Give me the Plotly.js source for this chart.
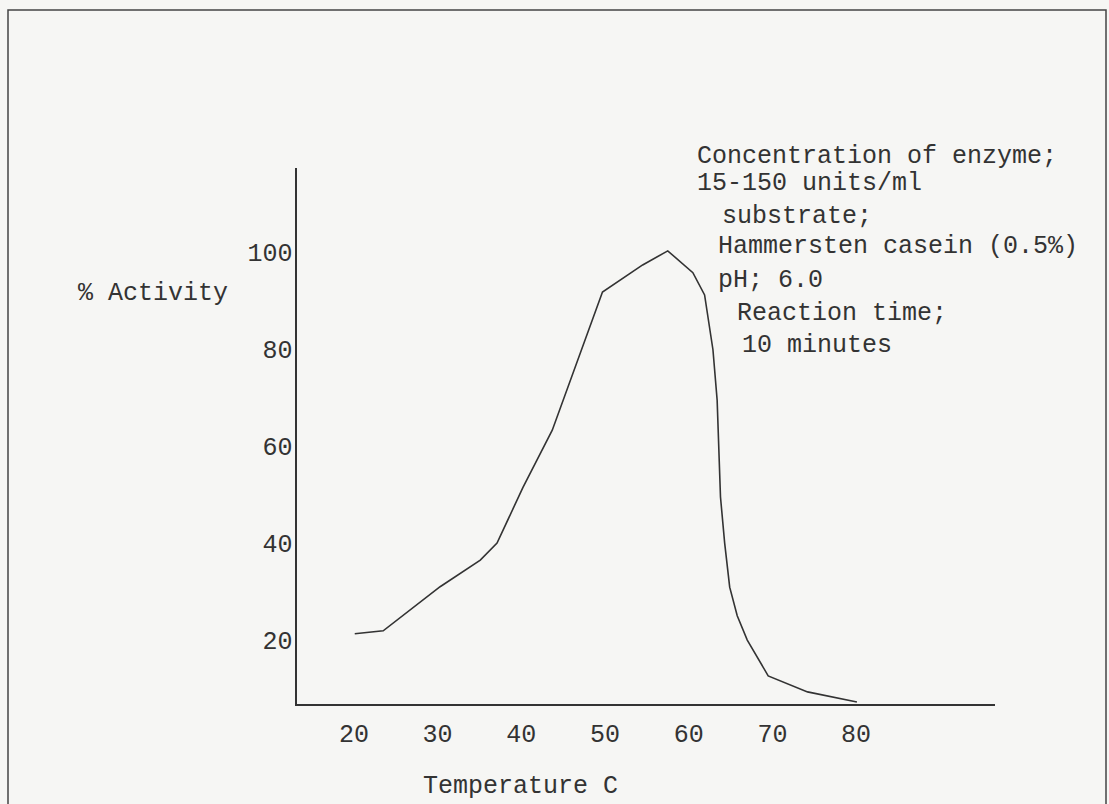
<!DOCTYPE html>
<html>
<head>
<meta charset="utf-8">
<script src="https://cdn.plot.ly/plotly-3.0.1.min.js"></script>
<style>
  html, body { margin: 0; padding: 0; background: #f6f6f4; }
  #chart { width: 1109px; height: 804px; }
</style>
</head>
<body>
<div id="chart"></div>
<script>
// Data
const temperature = [20.1, 23.5, 30.3, 35.1, 37.1, 40.2, 43.7, 45.0, 47.2, 49.7, 54.5, 57.5, 60.5, 61.9, 62.9, 63.4, 63.8, 64.3, 64.9, 65.8, 67.0, 69.5, 74.2, 80.1];
const activity    = [21.3, 21.9, 31.0, 36.5, 40.0, 51.5, 63.3, 69.5, 79.9, 91.8, 97.4, 100.3, 95.8, 91.2, 79.9, 69.5, 49.5, 40.0, 30.9, 25.0, 20.0, 12.6, 9.3, 7.2];
const xTicks = [20, 30, 40, 50, 60, 70, 80];
const yTicks = [20, 40, 60, 80, 100];
const xTitle = "Temperature C";
const yTitle = "% Activity";
const noteLines = [
  "Concentration of enzyme;",
  "15-150 units/ml",
  "substrate;",
  "Hammersten casein (0.5%)",
  "pH; 6.0",
  "Reaction time;",
  "10 minutes"
];

// layout helpers (pixel -> paper)
const L = 297, R = 995, T = 168, B = 704;
const W = 1109, H = 804;
const px = x => (x - L) / (R - L);
const py = y => (B - y) / (B - T);

const FONT = "Liberation Mono, DejaVu Sans Mono, monospace";
const INK = "#333333";
const FS = 25;
const notePos = [[695,156],[695,183],[720,217],[716,247],[716,280],[735,313],[740,345]];

const annotations = noteLines.map((t, i) => ({
  text: t, xref: "paper", yref: "paper",
  x: px(notePos[i][0]), y: py(notePos[i][1]),
  xanchor: "left", yanchor: "middle", showarrow: false,
  font: { family: FONT, size: FS, color: INK }
}));
annotations.push({
  text: yTitle, xref: "paper", yref: "paper",
  x: px(76), y: py(293), xanchor: "left", yanchor: "middle",
  showarrow: false, font: { family: FONT, size: FS, color: INK }
});
annotations.push({
  text: xTitle, xref: "paper", yref: "paper",
  x: px(520), y: py(786), xanchor: "center", yanchor: "middle",
  showarrow: false, font: { family: FONT, size: FS, color: INK }
});

const trace = {
  x: temperature, y: activity, type: "scatter", mode: "lines",
  line: { color: INK, width: 1.6, shape: "linear" },
  hoverinfo: "x+y"
};

const layout = {
  width: W, height: H,
  margin: { l: L, r: W - R, t: T, b: H - B, pad: 0 },
  paper_bgcolor: "#f6f6f4", plot_bgcolor: "rgba(0,0,0,0)",
  showlegend: false,
  xaxis: {
    range: [13.2, 96.6], tickvals: xTicks, ticktext: xTicks.map(String),
    showline: true, linecolor: INK, linewidth: 1.6, showgrid: false, zeroline: false,
    ticks: "", ticklabelstandoff: 6,
    tickfont: { family: FONT, size: FS, color: INK }
  },
  yaxis: {
    range: [6.8, 117.4], tickvals: yTicks, ticktext: yTicks.map(String),
    showline: true, linecolor: INK, linewidth: 1.6, showgrid: false, zeroline: false,
    ticks: "", ticklabelstandoff: -2,
    tickfont: { family: FONT, size: FS, color: INK }
  },
  annotations: annotations,
  shapes: [{
    type: "rect", xref: "paper", yref: "paper",
    x0: px(8), x1: px(1106), y0: py(815), y1: py(10),
    line: { color: "#444", width: 1.5 }, fillcolor: "rgba(0,0,0,0)", layer: "below"
  }]
};

Plotly.newPlot("chart", [trace], layout, { displayModeBar: false, staticPlot: true });
</script>
</body>
</html>
